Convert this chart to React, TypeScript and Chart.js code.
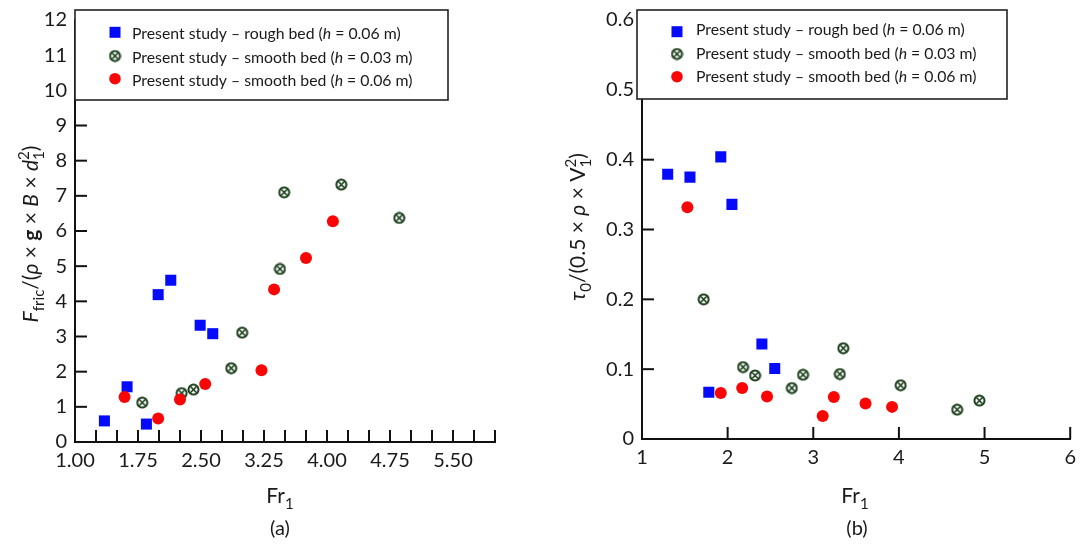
import React, { useEffect, useRef } from 'react';
import { Chart, registerables } from 'chart.js';

Chart.register(...registerables);

const FONT = 'Lato, "Open Sans", "Noto Sans", sans-serif';

// ---- Panel (a): F_fric/(rho g B d1^2) vs Fr1 ----
const roughA_x = [1.35, 1.62, 1.85, 1.99, 2.14, 2.49, 2.64];
const roughA_y = [0.6, 1.57, 0.51, 4.19, 4.6, 3.32, 3.08];
const smooth3A_x = [1.8, 2.27, 2.41, 2.86, 2.99, 3.44, 3.49, 4.17, 4.86];
const smooth3A_y = [1.12, 1.39, 1.49, 2.1, 3.11, 4.92, 7.1, 7.32, 6.37];
const smooth6A_x = [1.59, 1.99, 2.25, 2.55, 3.22, 3.37, 3.75, 4.07];
const smooth6A_y = [1.28, 0.67, 1.21, 1.65, 2.04, 4.34, 5.23, 6.28];

// ---- Panel (b): tau0/(0.5 rho V1^2) vs Fr1 ----
const roughB_x = [1.3, 1.56, 1.78, 1.92, 2.05, 2.4, 2.55];
const roughB_y = [0.379, 0.375, 0.067, 0.404, 0.336, 0.136, 0.101];
const smooth3B_x = [1.72, 2.18, 2.32, 2.75, 2.88, 3.31, 3.35, 4.02, 4.68, 4.94];
const smooth3B_y = [0.2, 0.103, 0.091, 0.073, 0.092, 0.093, 0.13, 0.077, 0.042, 0.055];
const smooth6B_x = [1.53, 1.92, 2.17, 2.46, 3.11, 3.24, 3.61, 3.92];
const smooth6B_y = [0.332, 0.066, 0.073, 0.061, 0.033, 0.06, 0.051, 0.046];

// axis ranges / tick labels
const xRange = [1, 6];
const xLabelsA = ['1.00', '1.75', '2.50', '3.25', '4.00', '4.75', '5.50'];
const xLabelsB = ['1', '2', '3', '4', '5', '6'];
const yRangeA = [0, 12];
const yRangeB = [0, 0.6];

const seriesNames = [
  ['Present study – rough bed (', 'h', ' = 0.06 m)'],
  ['Present study – smooth bed (', 'h', ' = 0.03 m)'],
  ['Present study – smooth bed (', 'h', ' = 0.06 m)'],
];
const captions = ['(a)', '(b)'];

const BLUE = 'rgb(5,10,250)';
const RED = 'rgb(250,5,5)';
const GREEN = '#163a16';

type Seg = { t: string; s?: 'i' | 'b'; scale?: number; dy?: number; adv?: boolean };

const yTitleA: Seg[] = [
  { t: 'F', s: 'i' },
  { t: 'fric', scale: 0.72, dy: 0.3 },
  { t: '/(' },
  { t: 'ρ', s: 'i' },
  { t: ' × ' },
  { t: 'g', s: 'b' },
  { t: ' × ' },
  { t: 'B', s: 'i' },
  { t: ' × ' },
  { t: 'd', s: 'i' },
  { t: '2', scale: 0.72, dy: -0.42, adv: false },
  { t: '1', scale: 0.72, dy: 0.3 },
  { t: ')' },
];
const yTitleB: Seg[] = [
  { t: 'τ', s: 'i' },
  { t: '0', scale: 0.72, dy: 0.3 },
  { t: '/(0.5 × ' },
  { t: 'ρ', s: 'i' },
  { t: ' × V' },
  { t: '2', scale: 0.72, dy: -0.42, adv: false },
  { t: '1', scale: 0.72, dy: 0.3 },
  { t: ')' },
];
const xTitle: Seg[] = [{ t: 'Fr' }, { t: '1', scale: 0.72, dy: 0.3 }];

function segFont(s: Seg, size: number) {
  const st = s.s === 'i' ? 'italic ' : '';
  const wt = s.s === 'b' ? 'bold ' : '';
  return `${st}${wt}${(size * (s.scale ?? 1)).toFixed(1)}px ${FONT}`;
}
function measureRich(ctx: CanvasRenderingContext2D, segs: Seg[], size: number) {
  let w = 0;
  for (const s of segs) {
    ctx.font = segFont(s, size);
    if (s.adv !== false) w += ctx.measureText(s.t).width;
  }
  return w;
}
function drawRich(ctx: CanvasRenderingContext2D, segs: Seg[], x: number, y: number, size: number) {
  let cx = x;
  for (const s of segs) {
    ctx.font = segFont(s, size);
    ctx.fillText(s.t, cx, y + (s.dy ?? 0) * size);
    if (s.adv !== false) cx += ctx.measureText(s.t).width;
  }
}

function makeCrossCircle(): HTMLCanvasElement {
  const c = document.createElement('canvas');
  c.width = 13;
  c.height = 13;
  const g = c.getContext('2d')!;
  g.fillStyle = '#fff';
  g.strokeStyle = GREEN;
  g.lineWidth = 2;
  g.beginPath();
  g.arc(6.5, 6.5, 5, 0, Math.PI * 2);
  g.fill();
  g.stroke();
  g.lineWidth = 1.6;
  const d = 3.2;
  g.beginPath();
  g.moveTo(6.5 - d, 6.5 - d);
  g.lineTo(6.5 + d, 6.5 + d);
  g.moveTo(6.5 + d, 6.5 - d);
  g.lineTo(6.5 - d, 6.5 + d);
  g.stroke();
  return c;
}

function drawMarker(ctx: CanvasRenderingContext2D, kind: number, x: number, y: number, cross: HTMLCanvasElement) {
  if (kind === 0) {
    ctx.fillStyle = BLUE;
    ctx.fillRect(x - 5.5, y - 5.5, 11, 11);
  } else if (kind === 1) {
    ctx.drawImage(cross, x - 6.5, y - 6.5);
  } else {
    ctx.fillStyle = RED;
    ctx.beginPath();
    ctx.arc(x, y, 5.8, 0, Math.PI * 2);
    ctx.fill();
  }
}

interface Layout {
  padding: { top: number; right: number; bottom: number; left: number };
  yWidth: number;
  xHeight: number;
  tickFont: number;
  box: { x: number; y: number; w: number; h: number };
  markerX: number;
  textX: number;
  baselines: number[];
  markerYs: number[];
  legendFont: number;
  yTitle: Seg[];
  yTitlePos: [number, number];
  xTitlePos: [number, number];
  captionPos: [number, number];
  caption: string;
  titleFont: number;
  captionFont: number;
}

function pts(xs: number[], ys: number[]) {
  return xs.map((x, i) => ({ x, y: ys[i] }));
}

function buildChart(
  canvas: HTMLCanvasElement,
  data: { rx: number[]; ry: number[]; gx: number[]; gy: number[]; sx: number[]; sy: number[] },
  xStep: number,
  xLabels: string[],
  yRange: number[],
  yStep: number,
  yFmt: (v: number) => string,
  L: Layout
) {
  const cross = makeCrossCircle();
  const decor = {
    id: 'decor',
    beforeDatasetsDraw(chart: any) {
      const { ctx, chartArea } = chart;
      const xs = chart.scales.x;
      const ys = chart.scales.y;
      ctx.save();
      ctx.strokeStyle = '#111';
      ctx.lineWidth = 2;
      xs.ticks.forEach((t: any) => {
        if (Math.abs(t.value - xs.min) < 1e-9) return;
        const px = xs.getPixelForValue(t.value);
        ctx.beginPath();
        ctx.moveTo(px, chartArea.bottom);
        ctx.lineTo(px, chartArea.bottom - 12);
        ctx.stroke();
      });
      ys.ticks.forEach((t: any) => {
        if (Math.abs(t.value - ys.min) < 1e-9) return;
        const py = ys.getPixelForValue(t.value);
        ctx.beginPath();
        ctx.moveTo(chartArea.left, py);
        ctx.lineTo(chartArea.left + 12, py);
        ctx.stroke();
      });
      ctx.restore();
    },
    afterDraw(chart: any) {
      const { ctx } = chart;
      ctx.save();
      // legend box
      ctx.fillStyle = '#fff';
      ctx.fillRect(L.box.x, L.box.y, L.box.w, L.box.h);
      ctx.strokeStyle = '#222';
      ctx.lineWidth = 1.6;
      ctx.strokeRect(L.box.x, L.box.y, L.box.w, L.box.h);
      ctx.textBaseline = 'alphabetic';
      ctx.textAlign = 'left';
      seriesNames.forEach((parts, i) => {
        drawMarker(ctx, i, L.markerX, L.markerYs[i], cross);
        ctx.fillStyle = '#1a1a1a';
        const segs: Seg[] = [{ t: parts[0] }, { t: parts[1], s: 'i' }, { t: parts[2] }];
        drawRich(ctx, segs, L.textX, L.baselines[i], L.legendFont);
      });
      // x title
      ctx.fillStyle = '#1a1a1a';
      const wx = measureRich(ctx, xTitle, L.titleFont);
      drawRich(ctx, xTitle, L.xTitlePos[0] - wx / 2, L.xTitlePos[1], L.titleFont);
      // caption
      ctx.font = `${L.captionFont}px ${FONT}`;
      ctx.textAlign = 'center';
      ctx.fillText(L.caption, L.captionPos[0], L.captionPos[1]);
      ctx.textAlign = 'left';
      // y title (rotated)
      const wy = measureRich(ctx, L.yTitle, L.titleFont);
      ctx.translate(L.yTitlePos[0], L.yTitlePos[1]);
      ctx.rotate(-Math.PI / 2);
      drawRich(ctx, L.yTitle, -wy / 2, L.titleFont * 0.36, L.titleFont);
      ctx.restore();
    },
  };

  return new Chart(canvas, {
    type: 'scatter',
    data: {
      datasets: [
        {
          label: 'rough h=0.06',
          data: pts(data.rx, data.ry),
          pointStyle: 'rect',
          pointRadius: 7.8,
          backgroundColor: BLUE,
          borderWidth: 0,
          order: 2,
        },
        {
          label: 'smooth h=0.03',
          data: pts(data.gx, data.gy),
          pointStyle: cross as any,
          pointRadius: 6,
          order: 1,
        },
        {
          label: 'smooth h=0.06',
          data: pts(data.sx, data.sy),
          pointStyle: 'circle',
          pointRadius: 6,
          backgroundColor: RED,
          borderWidth: 0,
          order: 0,
        },
      ],
    },
    options: {
      responsive: false,
      animation: false,
      events: [],
      layout: { padding: L.padding },
      plugins: { legend: { display: false }, tooltip: { enabled: false } },
      scales: {
        x: {
          type: 'linear',
          min: xRange[0],
          max: xRange[1],
          afterFit: (s: any) => {
            s.height = L.xHeight;
          },
          ticks: {
            stepSize: xStep,
            autoSkip: false,
            maxRotation: 0,
            padding: 7,
            color: '#1a1a1a',
            font: { family: FONT, size: L.tickFont },
            callback: (v: any) => {
              const n = Number(v);
              const hit = xLabels.find((lab) => Math.abs(parseFloat(lab) - n) < 1e-6);
              return hit ?? '';
            },
          },
          grid: { display: true, drawOnChartArea: false, drawTicks: false },
          border: { display: true, color: '#111', width: 2 },
        },
        y: {
          type: 'linear',
          min: yRange[0],
          max: yRange[1],
          afterFit: (s: any) => {
            s.width = L.yWidth;
          },
          ticks: {
            stepSize: yStep,
            autoSkip: false,
            padding: 8,
            color: '#1a1a1a',
            font: { family: FONT, size: L.tickFont },
            callback: (v: any) => yFmt(Number(v)),
          },
          grid: { display: true, drawOnChartArea: false, drawTicks: false },
          border: { display: true, color: '#111', width: 2 },
        },
      },
    },
    plugins: [decor],
  });
}

export default function App() {
  const refA = useRef<HTMLCanvasElement>(null);
  const refB = useRef<HTMLCanvasElement>(null);

  useEffect(() => {
    const a = buildChart(
      refA.current!,
      { rx: roughA_x, ry: roughA_y, gx: smooth3A_x, gy: smooth3A_y, sx: smooth6A_x, sy: smooth6A_y },
      0.25,
      xLabelsA,
      yRangeA,
      1,
      (v) => String(Math.round(v)),
      {
        padding: { top: 10, right: 45, bottom: 0, left: 0 },
        yWidth: 75,
        xHeight: 104,
        tickFont: 20,
        box: { x: 75, y: 10, w: 373, h: 90 },
        markerX: 115,
        textX: 132,
        baselines: [39.3, 62.7, 86],
        markerYs: [32.3, 56, 78.7],
        legendFont: 15.8,
        yTitle: yTitleA,
        yTitlePos: [30, 234],
        xTitlePos: [280, 503],
        captionPos: [280, 535],
        caption: captions[0],
        titleFont: 21,
        captionFont: 20,
      }
    );
    const b = buildChart(
      refB.current!,
      { rx: roughB_x, ry: roughB_y, gx: smooth3B_x, gy: smooth3B_y, sx: smooth6B_x, sy: smooth6B_y },
      1,
      xLabelsB,
      yRangeB,
      0.1,
      (v) => (Math.abs(v) < 1e-9 ? '0' : v.toFixed(1)),
      {
        padding: { top: 9, right: 9, bottom: 0, left: 0 },
        yWidth: 102,
        xHeight: 107,
        tickFont: 20,
        box: { x: 97, y: 10, w: 370, h: 89 },
        markerX: 137,
        textX: 156,
        baselines: [35, 59, 82.3],
        markerYs: [31.7, 54, 76.7],
        legendFont: 15.8,
        yTitle: yTitleB,
        yTitlePos: [37, 227],
        xTitlePos: [315, 503],
        captionPos: [317, 535],
        caption: captions[1],
        titleFont: 21,
        captionFont: 20,
      }
    );
    return () => {
      a.destroy();
      b.destroy();
    };
  }, []);

  return (
    <div style={{ position: 'absolute', left: 0, top: 0, width: 1083, height: 546, background: '#fff' }}>
      <canvas ref={refA} width={540} height={546} style={{ position: 'absolute', left: 0, top: 0, width: 540, height: 546 }} />
      <canvas ref={refB} width={543} height={546} style={{ position: 'absolute', left: 540, top: 0, width: 543, height: 546 }} />
    </div>
  );
}
